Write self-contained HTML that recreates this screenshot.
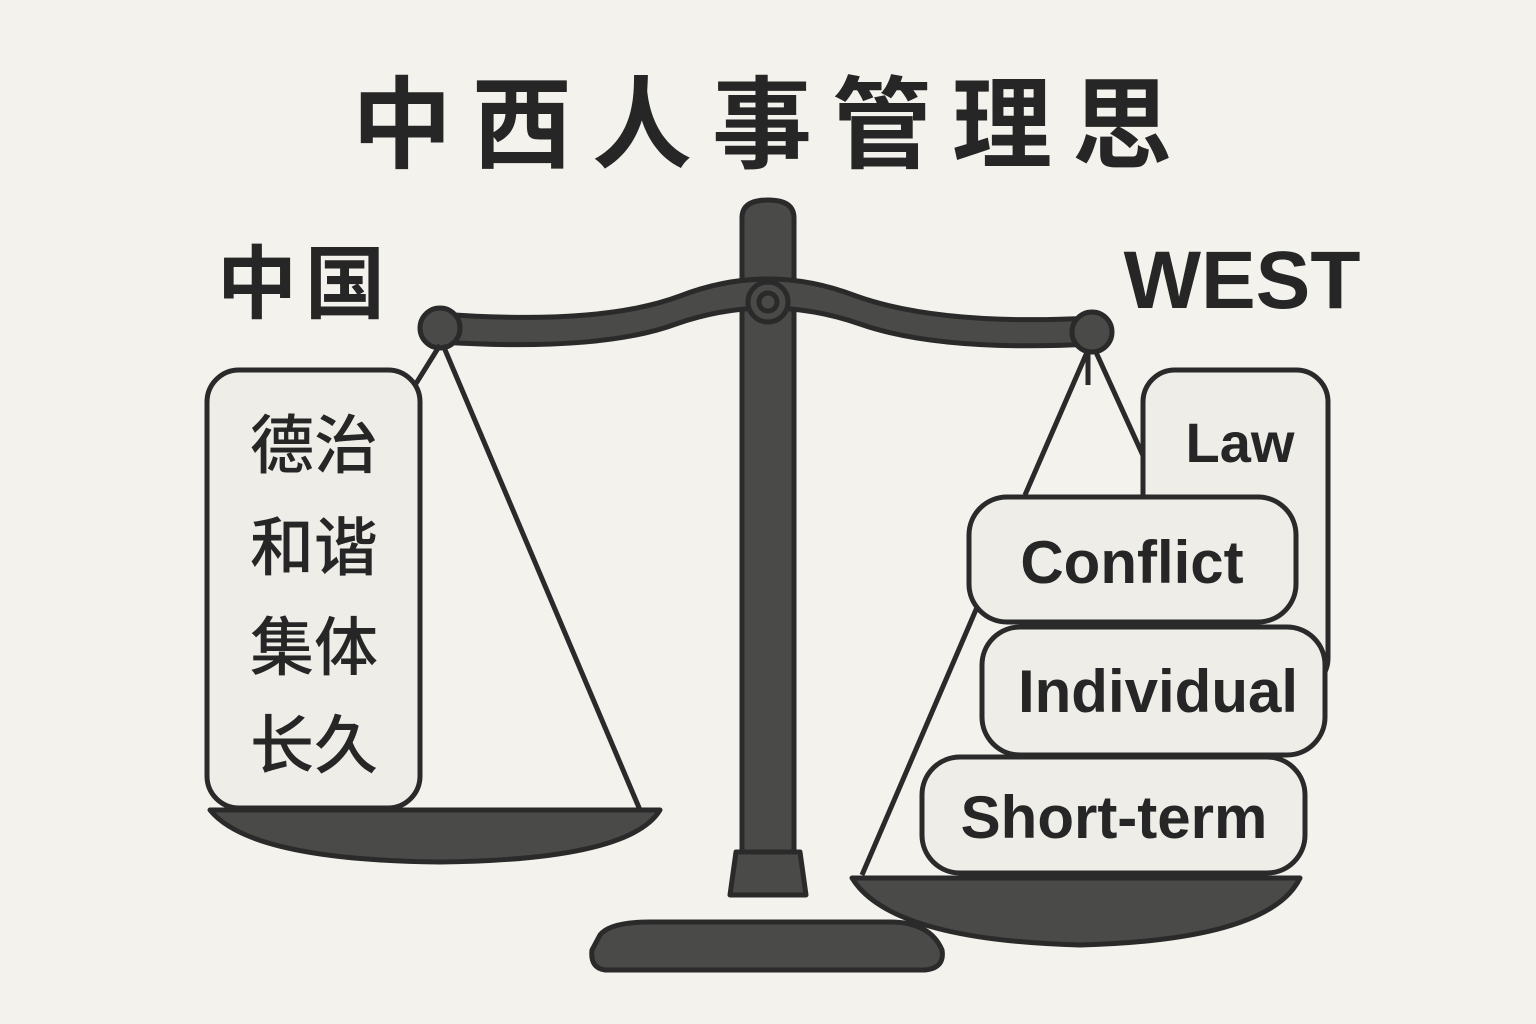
<!DOCTYPE html>
<html><head><meta charset="utf-8"><style>
html,body{margin:0;padding:0;background:#f4f2ed;}
svg{display:block}
text{font-family:"Liberation Sans","Noto Sans CJK SC",sans-serif;fill:#262626;font-weight:bold}
text.cn{font-weight:500}
</style></head><body>
<svg width="1536" height="1024" viewBox="0 0 1536 1024" xmlns="http://www.w3.org/2000/svg">
<rect width="1536" height="1024" fill="#f4f2ed"/>
<text x="772" y="160" font-size="100" text-anchor="middle" letter-spacing="20">中西人事管理思</text>
<text x="305" y="312" font-size="80" text-anchor="middle" letter-spacing="8">中国</text>
<text x="1242" y="308" font-size="82" text-anchor="middle">WEST</text>

<g stroke="#2a2a2a" stroke-width="5" stroke-linejoin="round">
<path d="M742 218 Q742 200 768 200 Q794 200 794 218 L794 852 L742 852 Z" fill="#4a4a48"/>
<path d="M730 895 L736 852 L800 852 L806 895 Z" fill="#4a4a48"/>
<path d="M600 935 Q610 922 650 922 L890 922 Q930 922 942 950 Q945 968 925 970 L605 970 Q590 968 592 950 Z" fill="#4a4a48"/>
<path d="M440 314 Q600 326 680 296 Q768 262 856 296 Q940 326 1092 318 L1092 344 Q940 352 860 324 Q768 292 676 324 Q600 352 440 342 Z" fill="#4a4a48"/>
<circle cx="768" cy="302" r="20" fill="#4a4a48"/>
<circle cx="768" cy="302" r="9" fill="#4a4a48"/>
<circle cx="440" cy="328" r="20" fill="#4a4a48"/>
<circle cx="1092" cy="332" r="20" fill="#4a4a48"/>
<line x1="440" y1="345" x2="412" y2="390" fill="none"/>
<line x1="443" y1="345" x2="640" y2="810" fill="none"/>
<path d="M210 810 L660 810 Q630 860 440 862 Q250 860 210 810 Z" fill="#4a4a48"/>
<rect x="207" y="370" width="213" height="438" rx="32" fill="#efede8"/>
<line x1="1088" y1="350" x2="1025" y2="495" fill="none"/>
<line x1="978" y1="605" x2="862" y2="875" fill="none"/>
<line x1="1095" y1="350" x2="1145" y2="460" fill="none"/>
<line x1="1088" y1="350" x2="1088" y2="385" fill="none"/>
<path d="M852 878 L1300 878 Q1270 940 1080 945 Q890 940 852 878 Z" fill="#4a4a48"/>
<rect x="1143" y="370" width="185" height="320" rx="32" fill="#efede8"/>
<rect x="969" y="497" width="327" height="125" rx="38" fill="#efede8"/>
<rect x="982" y="627" width="343" height="128" rx="38" fill="#efede8"/>
<rect x="922" y="757" width="383" height="116" rx="38" fill="#efede8"/>
</g>
<g font-size="64" text-anchor="middle">
<text class="cn" x="314" y="468">德治</text>
<text class="cn" x="314" y="570">和谐</text>
<text class="cn" x="314" y="670">集体</text>
<text class="cn" x="314" y="768">长久</text>
</g>
<text x="1240" y="462" font-size="56" text-anchor="middle">Law</text>
<text x="1132" y="583" font-size="60" text-anchor="middle">Conflict</text>
<text x="1158" y="712" font-size="60" text-anchor="middle">Individual</text>
<text x="1114" y="838" font-size="60" text-anchor="middle">Short-term</text>
</svg>
</body></html>
